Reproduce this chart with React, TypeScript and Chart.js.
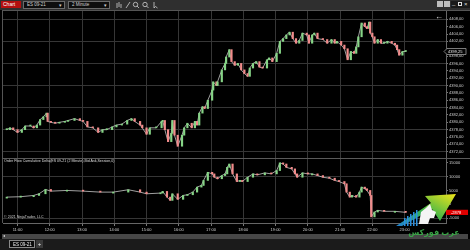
import React, { useEffect, useRef } from 'react';
import { Chart, registerables } from 'chart.js';
Chart.register(...registerables);

// ---- DATA ----
const priceTimes = [640,646,652,660,668,674,684,690,696,702,708,714,716,722,730,738,748,754,766,776,782,790,800,810,818,826,836,844,854,864,872,878,888,892,900,906,918,928,930,934,940,946,948,952,958,966,970,976,984,990,994,998,1004,1008,1014,1022,1024,1030,1032,1040,1046,1048,1054,1058,1064,1070,1076,1082,1088,1092,1098,1104,1110,1116,1124,1128,1134,1142,1148,1154,1160,1166,1172,1178,1184,1190,1198,1202,1208,1212,1218,1228,1236,1244,1250,1254,1262,1268,1274,1280,1286,1290,1294,1300,1306,1310,1314,1316,1320,1324,1330,1336,1342,1348,1356,1362,1366,1370,1376,1382];
const priceValues = [4378,4378.5,4378,4377.25,4378,4379,4379,4378.5,4379.25,4380.75,4381.5,4382.5,4380.25,4380,4379.75,4380,4380.25,4380.5,4381,4380.5,4380.25,4378.75,4378.5,4377.25,4378,4378,4378.75,4379.25,4379.5,4380.5,4381,4380.25,4379.25,4378.5,4376.75,4378.5,4378.5,4380.25,4380.5,4378,4374.75,4377,4380.5,4376.5,4373.5,4376.5,4378.5,4379.75,4378.5,4380.25,4379.25,4382.5,4384.25,4383.75,4386,4388.75,4391,4390,4391,4394.25,4396,4397.75,4399.75,4396.5,4395.5,4396,4394.25,4393.25,4392.5,4394.75,4396,4396.5,4395,4394.75,4397,4397.5,4396.5,4398.75,4402,4402.75,4403.75,4404.5,4402.75,4401.5,4402.25,4404.25,4403.75,4401.5,4403.75,4404.25,4402.75,4402.5,4401.5,4402.5,4401.5,4402,4401,4400,4397,4399.25,4398.75,4400.5,4403.25,4407,4406,4405.5,4407.25,4404.25,4403.25,4401.5,4402.5,4401.5,4401.5,4402,4401.5,4401,4399.75,4398.25,4399.25,4399.25];

const deltaTimes = [640,666,690,700,712,722,752,782,814,838,866,888,900,926,930,938,944,948,958,968,976,986,994,1002,1006,1014,1022,1026,1032,1040,1046,1050,1054,1060,1068,1074,1078,1088,1098,1106,1120,1132,1142,1148,1154,1160,1170,1176,1180,1190,1200,1208,1218,1228,1240,1250,1258,1268,1272,1278,1282,1290,1296,1300,1306,1310,1316,1318,1324,1330,1342,1362,1382];
const deltaValues = [2600,2750,3200,3800,5350,4750,5000,4750,4400,4400,5250,4400,3800,4050,4650,2600,1430,3800,1800,3200,3450,4400,6200,6800,8600,11500,10950,9750,9200,10350,10950,13300,14500,10950,8200,8600,8200,9750,10950,10600,11300,10950,12150,14900,14500,13300,12750,10950,9750,11300,10950,10950,10350,9750,9400,8600,8200,7400,4400,2600,3200,2600,4400,6200,5600,5000,3200,-4500,-2750,-2150,-2500,-2500,-2878];

const hourTicks = [660,720,780,840,900,960,1020,1080,1140,1200,1260,1320,1380];
const priceTicks = [4372,4374,4376,4378,4380,4382,4384,4386,4388,4390,4392,4394,4396,4398,4402,4404,4406,4408];
const priceGridTicks = [4372,4378,4384,4390,4396,4402,4408];
const deltaTicks = [-5000,0,5000,10000,15000];
const deltaGridTicks = [-5000,10000];

const UP = '#86d486';
const DOWN = '#f28b8b';
const GRID = '#363636';
const FONT = 'Liberation Sans';

function bars(times: number[], values: number[]) {
  return times.map((t, i) => ({ x: t, y: [i === 0 ? values[0] : values[i - 1], values[i]] }));
}
function colors(values: number[]) {
  return values.map((v, i) => (i === 0 || v >= values[i - 1] ? UP : DOWN));
}
function line(times: number[], values: number[]) {
  return times.map((t, i) => ({ x: t, y: values[i] }));
}

const X_MIN = 633;
const X_MAX = 1457;

function App() {
  const priceRef = useRef<HTMLCanvasElement>(null);
  const deltaRef = useRef<HTMLCanvasElement>(null);

  useEffect(() => {
    const lastPrice = priceValues[priceValues.length - 1];
    const lastDelta = deltaValues[deltaValues.length - 1];

    const priceBox = {
      id: 'priceBox',
      afterDraw(chart: any) {
        const { ctx, chartArea, scales } = chart;
        const y = scales.y.getPixelForValue(lastPrice);
        const x0 = chartArea.right - 2;
        ctx.save();
        ctx.beginPath();
        ctx.moveTo(x0, y);
        ctx.lineTo(x0 + 3, y - 3);
        ctx.lineTo(x0 + 22, y - 3);
        ctx.lineTo(x0 + 22, y + 3);
        ctx.lineTo(x0 + 3, y + 3);
        ctx.closePath();
        ctx.fillStyle = '#050505';
        ctx.fill();
        ctx.strokeStyle = '#9a9a9a';
        ctx.lineWidth = 0.8;
        ctx.stroke();
        ctx.fillStyle = '#e8e8e8';
        ctx.font = `4px "${FONT}"`;
        ctx.textBaseline = 'middle';
        ctx.fillText(lastPrice.toFixed(2).replace('.', ','), x0 + 4, y + 0.3);
        ctx.restore();
      },
    };
    const deltaBox = {
      id: 'deltaBox',
      afterDraw(chart: any) {
        const { ctx, chartArea, scales } = chart;
        const y = scales.y.getPixelForValue(lastDelta);
        const x0 = chartArea.right;
        ctx.save();
        ctx.fillStyle = '#e00000';
        ctx.fillRect(x0, y - 2.6, 22, 5.2);
        ctx.fillStyle = '#ffffff';
        ctx.font = `4px "${FONT}"`;
        ctx.textBaseline = 'middle';
        ctx.fillText(String(lastDelta), x0 + 5, y + 0.3);
        ctx.restore();
      },
    };

    const xScale = (showLabels: boolean) => ({
      type: 'linear',
      min: X_MIN,
      max: X_MAX,
      offset: false,
      afterBuildTicks: (axis: any) => {
        axis.ticks = hourTicks.map((v) => ({ value: v }));
      },
      afterFit: (s: any) => {
        s.height = showLabels ? 12 : 0;
        s.paddingLeft = 0;
        s.paddingRight = 0;
      },
      grid: {
        color: GRID,
        lineWidth: 1,
        offset: false,
        drawTicks: showLabels,
        tickLength: 3,
        tickColor: '#777',
      },
      border: { display: showLabels, color: '#666' },
      ticks: {
        display: showLabels,
        color: '#cfcfcf',
        font: { size: 4, family: FONT },
        padding: 1,
        maxRotation: 0,
        autoSkip: false,
        callback: (v: any) => `${Math.round(v / 60)}:00`,
      },
    });

    const yScale = (min: number, max: number, ticks: number[], gridTicks: number[], fmt: (v: number) => string) => ({
      position: 'right',
      min,
      max,
      afterBuildTicks: (axis: any) => {
        axis.ticks = ticks.map((v) => ({ value: v }));
      },
      afterFit: (s: any) => {
        s.width = 24;
        s.paddingTop = 0;
        s.paddingBottom = 0;
      },
      grid: {
        color: (c: any) => (c.tick && gridTicks.includes(c.tick.value) ? GRID : 'rgba(0,0,0,0)'),
        tickColor: '#777',
        tickLength: 2,
        drawTicks: true,
      },
      border: { display: true, color: '#666' },
      ticks: {
        color: '#cfcfcf',
        font: { size: 4, family: FONT },
        padding: 1,
        autoSkip: false,
        callback: (v: any) => fmt(Number(v)),
      },
    });

    const common = {
      animation: false,
      responsive: false,
      maintainAspectRatio: false,
      layout: { padding: 0 },
      plugins: { legend: { display: false }, tooltip: { enabled: false } },
      events: [],
    };

    const makeDatasets = (times: number[], values: number[]) => [
      {
        type: 'bar',
        data: bars(times, values) as any,
        backgroundColor: colors(values),
        borderWidth: 0,
        barThickness: 1.5,
        minBarLength: 1,
        order: 1,
      } as any,
      {
        type: 'line',
        data: line(times, values) as any,
        borderColor: 'rgba(200,200,200,0.8)',
        borderWidth: 1,
        pointRadius: 0,
        tension: 0,
        order: 2,
      },
    ];

    const priceChart = new Chart(priceRef.current as HTMLCanvasElement, {
      type: 'line',
      data: { datasets: makeDatasets(priceTimes, priceValues) },
      options: {
        ...common,
        scales: {
          x: xScale(false),
          y: yScale(4370.3, 4410.26, priceTicks, priceGridTicks, (v) => v.toFixed(2).replace('.', ',')),
        },
      } as any,
      plugins: [priceBox],
    });

    const deltaChart = new Chart(deltaRef.current as HTMLCanvasElement, {
      type: 'line',
      data: { datasets: makeDatasets(deltaTimes, deltaValues) },
      options: {
        ...common,
        scales: {
          x: xScale(true),
          y: yScale(-6700, 16300, deltaTicks, deltaGridTicks, (v) => String(v)),
        },
      } as any,
      plugins: [deltaBox],
    });

    return () => {
      priceChart.destroy();
      deltaChart.destroy();
    };
  }, []);

  const abs = (l: number, t: number, w: number, h: number, extra: any = {}) => ({
    position: 'absolute' as const,
    left: l,
    top: t,
    width: w,
    height: h,
    boxSizing: 'border-box' as const,
    ...extra,
  });
  const tiny = (size: number, color: string) => ({ fontSize: size, color, fontFamily: FONT, whiteSpace: 'nowrap' as const, lineHeight: 1 });

  return (
    <div style={{ position: 'fixed', left: 0, top: 0, width: 470, height: 250, background: '#000', overflow: 'hidden', fontFamily: FONT }}>
      {/* toolbar */}
      <div style={abs(0, 0, 470, 10, { background: '#2f2f2f' })} />
      <div style={abs(1, 1, 20, 7, { background: '#b30f0f', ...tiny(5, '#fff'), lineHeight: '7px', paddingLeft: 2 })}>Chart</div>
      <div style={abs(23, 1, 42, 7.5, { background: '#0e0e0e', border: '0.6px solid #6a6a6a', ...tiny(4.5, '#d0d0d0'), lineHeight: '6.5px', paddingLeft: 3 })}>
        ES 09-21<span style={{ position: 'absolute', right: 2, top: 0, fontSize: 5 }}>▾</span>
      </div>
      <div style={abs(68, 1, 42, 7.5, { background: '#0e0e0e', border: '0.6px solid #6a6a6a', ...tiny(4.5, '#d0d0d0'), lineHeight: '6.5px', paddingLeft: 3 })}>
        2 Minute<span style={{ position: 'absolute', right: 2, top: 0, fontSize: 5 }}>▾</span>
      </div>
      <svg style={{ position: 'absolute', left: 115, top: 1 }} width={46} height={8} viewBox="0 0 46 8">
        <g stroke="#cfcfcf" strokeWidth={0.8} fill="none">
          <line x1={2} y1={2} x2={2} y2={7} />
          <line x1={4} y1={1} x2={4} y2={6} />
          <line x1={6} y1={3} x2={6} y2={7} />
          <line x1={11} y1={7} x2={15} y2={1} />
          <circle cx={20.5} cy={3.5} r={2.2} />
          <line x1={22} y1={5} x2={24} y2={7} />
          <circle cx={30} cy={3.5} r={2.2} />
          <line x1={31.5} y1={5} x2={33.5} y2={7} />
          <path d="M39 1 L39 7 L40.5 5.5 L42.5 7" />
        </g>
      </svg>
      {/* window controls */}
      <div style={abs(437, 1, 6, 6, { background: '#bdbdbd' })} />
      <div style={abs(444, 1, 6, 6, { background: '#bdbdbd' })} />
      <div style={abs(451, 0.5, 19, 7, { background: '#1a1a1a' })} />
      <div style={abs(452, 0, 5, 7, tiny(6, '#ddd'))}>_</div>
      <div style={abs(458, 2, 4, 4, { border: '0.7px solid #ddd' })} />
      <div style={abs(464, 0.5, 5, 7, tiny(6, '#ddd'))}>×</div>

      {/* panel frame */}
      <div style={abs(2, 10, 468, 1, { background: '#555' })} />
      <div style={abs(2, 10, 1, 213, { background: '#555' })} />

      <canvas ref={priceRef} width={467} height={147} style={{ position: 'absolute', left: 3, top: 11, width: 467, height: 147 }} />
      <div style={abs(2, 157.5, 468, 1, { background: '#5a5a5a' })} />
      <canvas ref={deltaRef} width={467} height={76} style={{ position: 'absolute', left: 3, top: 158.5, width: 467, height: 76 }} />

      {/* overlays */}
      <div style={abs(435, 13, 10, 9, tiny(8, '#e4e4e4'))}>←</div>
      <div style={abs(4, 159.5, 200, 5, tiny(3.6, '#dedede'))}>Order Flow Cumulative Delta(ES 09-21 (2 Minute),Bid Ask,Session,0)</div>
      <div style={abs(4, 216.2, 100, 5, tiny(3.6, '#cfcfcf'))}>© 2021 NinjaTrader, LLC</div>

      {/* scrollbar */}
      <div style={abs(2, 234, 466, 5, { background: '#474747' })} />
      <div style={abs(3, 233.8, 4, 5, tiny(4, '#ddd'))}>◂</div>
      {/* tabs */}
      <div style={abs(0, 239, 470, 11, { background: '#1b1b1b' })} />
      <div style={abs(9, 240, 26, 8, { background: '#0b0b0b', border: '0.7px solid #8a8a8a', ...tiny(4.5, '#eee'), lineHeight: '7px', paddingLeft: 3 })}>ES 09-21</div>
      <div style={abs(36, 240, 7, 8, { background: '#3a3a3a', ...tiny(6, '#eee'), lineHeight: '8px', textAlign: 'center' })}>+</div>

      {/* watermark */}
      <svg style={{ position: 'absolute', left: 390, top: 188 }} width={80} height={52} viewBox="0 0 80 52">
        <defs>
          <linearGradient id="wmg" x1="0" y1="1" x2="1" y2="0">
            <stop offset="0" stopColor="#1e7fd6" />
            <stop offset="0.45" stopColor="#38b34a" />
            <stop offset="1" stopColor="#f2e51a" />
          </linearGradient>
        </defs>
        <polygon points="6,38 12,38 42,21 50,33 66,6 35,8 41,15" fill="url(#wmg)" />
        <g fill="#2a8fe0">
          <rect x={14} y={30} width={1.5} height={8} />
          <rect x={17} y={28} width={1.5} height={10} />
          <rect x={20} y={26} width={1.5} height={12} />
          <rect x={23} y={24} width={1.5} height={14} />
          <rect x={26} y={22} width={1.5} height={16} />
        </g>
        <polygon points="29,36 31,24 36,20 40,16 42,22 46,24 44,30 40,30 38,36" fill="#f4f4f4" />
        <text x={44} y={47} textAnchor="middle" fontSize={8} fontFamily="Noto Sans, DejaVu Sans" fill="#3aa447" fontWeight="bold">عرب فوركس</text>
      </svg>
    </div>
  );
}

export default App;
